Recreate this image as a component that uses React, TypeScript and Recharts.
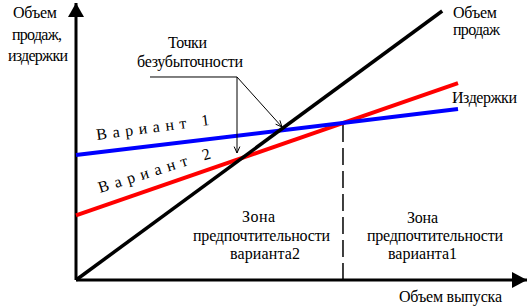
import React from 'react';
import { LineChart, Line, XAxis, YAxis, ReferenceLine, ReferenceDot } from 'recharts';

// ---- data (arbitrary units) ----
const salesX = [0, 81.2];
const salesY = [0, 97.1];
const costX = [0, 84.7];
const variant1Cost = [45.1, 61.7];
const variant2Cost = [23.3, 71.1];
const breakEvenX = 59.2; // equal costs of the two variants
const breakEvenY = 56.7;

const toPoints = (xs: number[], ys: number[]) => xs.map((x, i) => ({ x, y: ys[i] }));
const salesData = toPoints(salesX, salesY);
const v1Data = toPoints(costX, variant1Cost);
const v2Data = toPoints(costX, variant2Cost);

// ---- annotation layout ----
const FONT = '"Liberation Serif", "Times New Roman", serif';
type Txt = { t: string; x: number; y: number; w: number; rot?: number };
const texts: Txt[] = [
  { t: 'Объем', x: -13.97, y: 94.58, w: 44 },
  { t: 'продаж,', x: -14.19, y: 86.64, w: 50 },
  { t: 'издержки', x: -15.08, y: 79.06, w: 60 },
  { t: 'Точки', x: 20.4, y: 83.75, w: 39 },
  { t: 'безубыточности', x: 13.53, y: 76.9, w: 106 },
  { t: 'Объем', x: 83.59, y: 94.58, w: 44 },
  { t: 'продаж', x: 83.59, y: 88.45, w: 47 },
  { t: 'Издержки', x: 83.37, y: 63.9, w: 65 },
  { t: 'Зона', x: 36.81, y: 20.94, w: 33 },
  { t: 'предпочтительности', x: 25.94, y: 14.08, w: 137 },
  { t: 'варианта2', x: 34.15, y: 7.58, w: 70 },
  { t: 'Зона', x: 73.39, y: 20.58, w: 31 },
  { t: 'предпочтительности', x: 64.52, y: 14.08, w: 136 },
  { t: 'варианта1', x: 69.18, y: 7.58, w: 69 },
  { t: 'Объем выпуска', x: 71.62, y: -7.94, w: 103 },
  { t: 'Вариант 1', x: 4.66, y: 50.54, w: 114, rot: -7.6 },
  { t: 'Вариант 2', x: 5.32, y: 31.41, w: 117, rot: -17.4 },
];

type Seg = { a: [number, number]; b: [number, number]; head: boolean };
const pointers: Seg[] = [
  { a: [16.41, 73.29], b: [35.7, 73.29], head: false },
  { a: [35.7, 73.29], b: [35.7, 45.85], head: true },
  { a: [35.7, 73.29], b: [45.68, 55.23], head: true },
];

const makeArrow = (head: boolean) => (props: any) => {
  const { x1, y1, x2, y2 } = props;
  const ang = Math.atan2(y2 - y1, x2 - x1);
  const L = 7;
  const a = 0.42;
  const p1 = `${x2 - L * Math.cos(ang - a)},${y2 - L * Math.sin(ang - a)}`;
  const p2 = `${x2 - L * Math.cos(ang + a)},${y2 - L * Math.sin(ang + a)}`;
  return (
    <g>
      <line x1={x1} y1={y1} x2={x2} y2={y2} stroke="#000" strokeWidth={1} />
      {head && <polyline points={`${p1} ${x2},${y2} ${p2}`} fill="none" stroke="#000" strokeWidth={1} />}
    </g>
  );
};

const makeText = (d: Txt) => (props: any) => {
  const { cx, cy } = props;
  return (
    <text
      x={cx}
      y={cy}
      fontFamily={FONT}
      fontSize={16}
      fill="#000"
      textLength={d.w}
      lengthAdjust="spacing"
      transform={d.rot ? `rotate(${d.rot} ${cx} ${cy})` : undefined}
    >
      {d.t}
    </text>
  );
};

const UpArrow = (props: any) => {
  const { cx, cy } = props;
  return <polygon points={`${cx},${cy} ${cx - 8},${cy + 14} ${cx + 8},${cy + 14}`} fill="#000" />;
};
const RightArrow = (props: any) => {
  const { cx, cy } = props;
  return <polygon points={`${cx},${cy} ${cx - 15},${cy - 8} ${cx - 15},${cy + 8}`} fill="#000" />;
};

export default function App() {
  return (
    <div style={{ position: 'absolute', left: 0, top: 0, width: 531, height: 308, background: '#fff' }}>
      <LineChart width={531} height={308} margin={{ top: 3, right: 4, bottom: 28, left: 76 }}>
        <XAxis type="number" dataKey="x" domain={[0, 100]} hide />
        <YAxis type="number" dataKey="y" domain={[0, 100]} hide />
        <ReferenceLine
          segment={[{ x: breakEvenX, y: 0 }, { x: breakEvenX, y: breakEvenY }]}
          stroke="#000"
          strokeWidth={1.5}
          strokeDasharray="17 6"
          ifOverflow="visible"
        />
        <ReferenceLine segment={[{ x: 0, y: 0 }, { x: 100, y: 0 }]} stroke="#000" strokeWidth={3} ifOverflow="visible" />
        <ReferenceLine segment={[{ x: 0, y: 0 }, { x: 0, y: 100 }]} stroke="#000" strokeWidth={3} ifOverflow="visible" />
        <ReferenceDot x={0} y={100} r={1} shape={UpArrow} ifOverflow="visible" />
        <ReferenceDot x={100} y={0} r={1} shape={RightArrow} ifOverflow="visible" />
        <Line data={v2Data} dataKey="y" type="linear" stroke="#ff0000" strokeWidth={4} dot={false} isAnimationActive={false} />
        <Line data={v1Data} dataKey="y" type="linear" stroke="#0000ff" strokeWidth={4} dot={false} isAnimationActive={false} />
        <Line data={salesData} dataKey="y" type="linear" stroke="#000" strokeWidth={3.5} dot={false} isAnimationActive={false} />
        {pointers.map((s, i) => (
          <ReferenceLine
            key={'p' + i}
            segment={[{ x: s.a[0], y: s.a[1] }, { x: s.b[0], y: s.b[1] }]}
            stroke="#000"
            ifOverflow="visible"
            shape={makeArrow(s.head)}
          />
        ))}
        {texts.map((d, i) => (
          <ReferenceDot key={'t' + i} x={d.x} y={d.y} r={1} ifOverflow="visible" shape={makeText(d)} />
        ))}
      </LineChart>
    </div>
  );
}
